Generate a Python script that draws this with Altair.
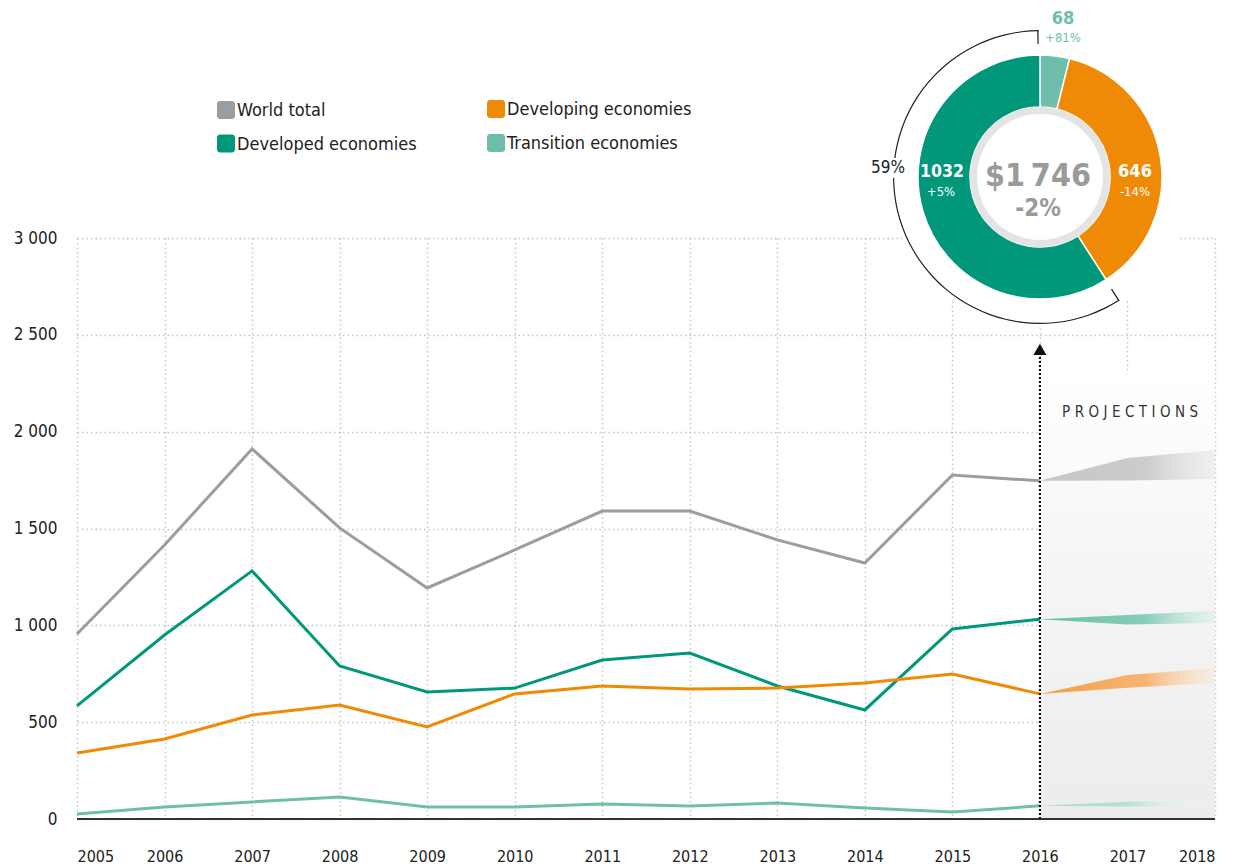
import math
import altair as alt
import pandas as pd

# ---------------- data ----------------
years = list(range(2005, 2017))
series_names = ["World total", "Developed economies", "Developing economies", "Transition economies"]
world = [955, 1415, 1911, 1503, 1193, 1389, 1590, 1590, 1441, 1322, 1776, 1746]
developed = [584, 950, 1281, 790, 656, 676, 821, 857, 687, 563, 981, 1032]
developing = [341, 413, 537, 589, 475, 646, 687, 671, 676, 702, 749, 646]
transition = [26, 62, 88, 114, 62, 62, 77, 67, 83, 57, 36, 68]

proj_years = [2016, 2017, 2018]
world_lo = [1746, 1748, 1755]
world_hi = [1746, 1864, 1905]
developed_lo = [1032, 1004, 1012]
developed_hi = [1032, 1053, 1075]
developing_lo = [646, 678, 702]
developing_hi = [646, 744, 778]
transition_lo = [68, 64, 67]
transition_hi = [68, 89, 100]

donut_series = ["Transition economies", "Developing economies", "Developed economies"]
donut_values = [68, 646, 1032]
donut_change = ["+81%", "-14%", "+5%"]
total_2016 = "$1\u202f746"
total_change = "-2%"
developed_share = "59%"

y_ticks = [0, 500, 1000, 1500, 2000, 2500, 3000]
x_ticks = list(range(2005, 2019))

# ---------------- styles ----------------
FONT = "Liberation Sans Narrow, Arial Narrow, DejaVu Sans Condensed, sans-serif"
colors = ["#9d9d9d", "#00977a", "#ef8a06", "#6dbfab"]
cscale = alt.Scale(domain=series_names, range=colors)
xscale = alt.Scale(domain=[2005, 2018], nice=False, zero=False)
yscale = alt.Scale(domain=[0, 3000], nice=False)

X_AXIS = alt.Axis(values=x_ticks, format="d", title=None, domain=False, ticks=False,
                  grid=True, gridColor="#c6c6c6", gridDash=[1.5, 3], gridWidth=1.5,
                  labelPadding=29, labelFontSize=16, labelColor="#222", labelFont=FONT)
Y_AXIS = alt.Axis(values=y_ticks, title=None, domain=False, ticks=False,
                  labelExpr="replace(format(datum.value, ','), ',', ' ')",
                  grid=True, gridColor="#c6c6c6", gridDash=[1.5, 3], gridWidth=1.5,
                  labelPadding=20, labelFontSize=17, labelColor="#222", labelFont=FONT)


def X(f):
    return alt.X(f, type="quantitative", scale=xscale, axis=X_AXIS)


def Y(f):
    return alt.Y(f, type="quantitative", scale=yscale, axis=Y_AXIS)


# long table of the lines
rows = []
for name, vals in zip(series_names, [world, developed, developing, transition]):
    for yr, v in zip(years, vals):
        rows.append({"series": name, "year": yr, "value": v})
lines_df = pd.DataFrame(rows)

# background of the projection period
proj_bg = alt.Chart(pd.DataFrame({"x0": [proj_years[0]], "x1": [proj_years[-1]],
                                  "y0": [0], "y1": [2300]})).mark_rect(
    color=alt.Gradient(gradient="linear",
                       stops=[alt.GradientStop(color="#ffffff", offset=0),
                              alt.GradientStop(color="#f6f6f6", offset=0.4),
                              alt.GradientStop(color="#ececec", offset=1)],
                       x1=0, x2=0, y1=0, y2=1)
).encode(x=X("x0"), x2="x1", y=Y("y0"), y2="y1")

# lines
lines = alt.Chart(lines_df).mark_line(strokeWidth=3).encode(
    x=X("year"), y=Y("value"),
    color=alt.Color("series:N", scale=cscale, legend=None),
)

# projection bands
band_specs = [
    (world_lo, world_hi, [("rgba(198,198,198,1)", 0), ("rgba(204,204,204,1)", 0.6), ("rgba(230,230,230,0.5)", 1)]),
    (developed_lo, developed_hi, [("rgba(102,191,165,1)", 0), ("rgba(135,205,186,1)", 0.6), ("rgba(200,235,225,0.3)", 1)]),
    (developing_lo, developing_hi, [("rgba(243,158,70,1)", 0), ("rgba(246,180,115,1)", 0.6), ("rgba(252,228,200,0.3)", 1)]),
    (transition_lo, transition_hi, [("rgba(165,220,204,1)", 0), ("rgba(180,226,212,1)", 0.5), ("rgba(240,250,246,0.2)", 0.9)]),
]
bands = []
for lo, hi, stops in band_specs:
    df = pd.DataFrame({"year": proj_years, "lo": lo, "hi": hi})
    bands.append(alt.Chart(df).mark_area(
        color=alt.Gradient(gradient="linear",
                           stops=[alt.GradientStop(color=c, offset=o) for c, o in stops],
                           x1=0, x2=1, y1=0, y2=0)
    ).encode(x=X("year"), y=Y("lo"), y2="hi"))

# x axis base line
base_line = alt.Chart(pd.DataFrame({"x0": [x_ticks[0]], "x1": [x_ticks[-1]], "y": [0]})).mark_rule(
    color="#333", strokeWidth=2).encode(x=X("x0"), x2="x1", y=Y("y"))

# projection marker line + arrow
marker_df = pd.DataFrame({"x": [proj_years[0]], "y0": [0], "y1": [2385], "ya": [2425]})
marker_line = alt.Chart(marker_df).mark_rule(color="#111", strokeWidth=2.2, strokeDash=[2, 2]).encode(
    x=X("x"), y=Y("y0"), y2="y1")
marker_arrow = alt.Chart(marker_df).mark_point(shape="triangle-up", filled=True, size=170,
                                               color="#111", opacity=1).encode(x=X("x"), y=Y("ya"))
proj_text = alt.Chart(pd.DataFrame({"x": [2017.03], "y": [2100],
                                    "t": ["P\u2004R\u2004O\u2004J\u2004E\u2004C\u2004T\u2004I\u2004O\u2004N\u2004S"]})).mark_text(
    font=FONT, fontSize=15, color="#333", align="center", baseline="middle").encode(
    x=X("x"), y=Y("y"), text="t:N")

# ---------------- donut ----------------
CX, CY = 963, -61
TWO_PI = 2 * math.pi
total_val = sum(donut_values)
dev_start = TWO_PI * (donut_values[0] + donut_values[1]) / total_val
one = pd.DataFrame({"k": [0]})

white_disk = alt.Chart(one).mark_arc(radius=151, radius2=0, theta=0, theta2=TWO_PI, color="white").encode(
    x=alt.value(CX), y=alt.value(CY))
donut_df = pd.DataFrame({"series": donut_series, "value": donut_values, "ord": [0, 1, 2]})
donut = alt.Chart(donut_df).mark_arc(radius=122, radius2=70, stroke="white", strokeWidth=1.5).encode(
    theta=alt.Theta("value:Q", stack=True),
    color=alt.Color("series:N", scale=cscale, legend=None),
    order=alt.Order("ord:Q"),
    x=alt.value(CX), y=alt.value(CY))
ring = alt.Chart(one).mark_arc(radius=70, radius2=63, theta=0, theta2=TWO_PI, color="#e4e4e4").encode(
    x=alt.value(CX), y=alt.value(CY))
bracket = alt.Chart(one).mark_arc(radius=147, radius2=145.8, theta=dev_start, theta2=TWO_PI - 0.01,
                                  color="#222").encode(x=alt.value(CX), y=alt.value(CY))
tick_a = alt.Chart(one).mark_arc(radius=147, radius2=133, theta=dev_start, theta2=dev_start + 0.009,
                                 color="#222").encode(x=alt.value(CX), y=alt.value(CY))
tick_b = alt.Chart(one).mark_arc(radius=147, radius2=133, theta=TWO_PI - 0.019, theta2=TWO_PI - 0.01,
                                 color="#222").encode(x=alt.value(CX), y=alt.value(CY))
share_bg = alt.Chart(one).mark_rect(color="white").encode(
    x=alt.value(796), x2=alt.value(827), y=alt.value(-80), y2=alt.value(-60))


def label(text, x, y, size, color, bold=True):
    return alt.Chart(pd.DataFrame({"t": [text]})).mark_text(
        font=FONT, fontSize=size, color=color, fontWeight="bold" if bold else "normal",
        align="center", baseline="middle").encode(x=alt.value(x), y=alt.value(y), text="t:N")


donut_labels = [
    label(str(donut_values[0]), 986, -219, 18, colors[3]),
    label(donut_change[0], 986, -200, 13, colors[3], bold=False),
    label(str(donut_values[1]), 1058, -66, 18, "white"),
    label(donut_change[1], 1058, -46, 13, "white", bold=False),
    label(str(donut_values[2]), 865, -66, 17.5, "white"),
    label(donut_change[2], 864, -46, 13, "white", bold=False),
    label(total_2016, 961, -62, 32, "#9a9a9a"),
    label(total_change, 961, -29, 24, "#9a9a9a"),
    label(developed_share, 811, -70, 17, "#222", bold=False),
]

# ---------------- legend ----------------
legend_pos = {"World total": (140, -128), "Developed economies": (140, -94.5),
              "Developing economies": (410, -129), "Transition economies": (410, -95)}
legend_layers = []
for name, col in zip(series_names, colors):
    lx, ly = legend_pos[name]
    df = pd.DataFrame({"t": [name]})
    legend_layers.append(alt.Chart(df).mark_rect(color=col, cornerRadius=3).encode(
        x=alt.value(lx), x2=alt.value(lx + 18), y=alt.value(ly - 9), y2=alt.value(ly + 9)))
    legend_layers.append(alt.Chart(df).mark_text(font=FONT, fontSize=18, color="#222",
                                                 align="left", baseline="middle").encode(
        x=alt.value(lx + 20), y=alt.value(ly + 1), text="t:N"))

chart = alt.layer(
    proj_bg, *bands, lines, base_line, marker_line, marker_arrow, proj_text,
    white_disk, donut, ring, bracket, tick_a, tick_b, share_bg, *donut_labels, *legend_layers
).properties(
    width=1138, height=581,
    autosize=alt.AutoSizeParams(type="none"),
    padding={"left": 69, "top": 230, "right": 14, "bottom": 50},
    background="white",
).configure_view(stroke=None)

chart.save("out.html", embed_options={"renderer": "svg", "actions": False})
